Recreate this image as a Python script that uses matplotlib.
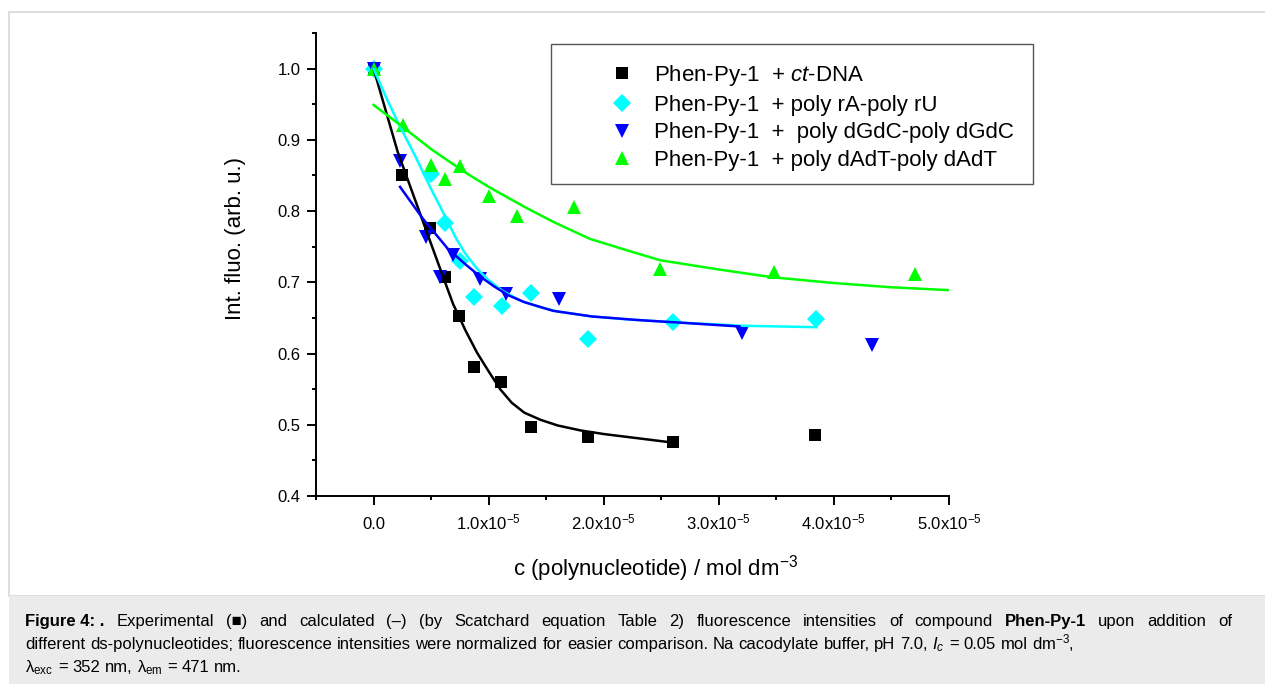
import matplotlib.pyplot as plt
from matplotlib.lines import Line2D
from matplotlib.patches import Rectangle
from matplotlib.ticker import MultipleLocator

plt.rcParams['font.family'] = ['Liberation Sans', 'DejaVu Sans']
plt.rcParams['mathtext.fontset'] = 'custom'
plt.rcParams['mathtext.rm'] = 'Liberation Sans'
plt.rcParams['mathtext.it'] = 'Liberation Sans:italic'
plt.rcParams['mathtext.bf'] = 'Liberation Sans:bold'

# concentrations in units of 1e-5 mol dm-3
# ct-DNA
ct_x = [0, 0.25, 0.49, 0.62, 0.745, 0.87, 1.11, 1.37, 1.865, 2.605, 3.84]
ct_y = [1.0, 0.85, 0.776, 0.708, 0.652, 0.581, 0.560, 0.497, 0.483, 0.476, 0.486]
ct_fit_x = [0, 0.21, 0.43, 0.59, 0.69, 0.80, 0.90, 1.0, 1.1, 1.2, 1.31, 1.45, 1.6, 1.8, 2.0, 2.3, 2.6]
ct_fit_y = [1.0, 0.883, 0.785, 0.714, 0.670, 0.632, 0.601, 0.575, 0.550, 0.531, 0.517, 0.507,
            0.499, 0.492, 0.487, 0.481, 0.475]

# poly rA-poly rU
ru_x = [0, 0.50, 0.62, 0.755, 0.87, 1.12, 1.37, 1.865, 2.605, 3.845]
ru_y = [1.0, 0.852, 0.783, 0.730, 0.680, 0.667, 0.685, 0.621, 0.644, 0.648]
ru_fit_x = [0, 0.1, 0.21, 0.36, 0.50, 0.58, 0.65, 0.72, 0.79, 0.90, 1.0, 1.12, 1.28, 1.45, 1.6,
            1.9, 2.2, 2.6, 3.2, 3.85]
ru_fit_y = [1.0, 0.963, 0.925, 0.878, 0.831, 0.806, 0.783, 0.761, 0.742, 0.719, 0.703, 0.688,
            0.674, 0.665, 0.659, 0.652, 0.648, 0.644, 0.639, 0.637]

# poly dGdC-poly dGdC
gc_x = [0, 0.226, 0.458, 0.58, 0.69, 0.922, 1.155, 1.61, 3.2, 4.335]
gc_y = [1.0, 0.871, 0.764, 0.707, 0.738, 0.704, 0.684, 0.676, 0.629, 0.612]
gc_fit_x = [0.23, 0.43, 0.646, 0.80, 0.936, 1.05, 1.168, 1.313, 1.559, 1.9, 2.3, 2.7, 3.18]
gc_fit_y = [0.834, 0.789, 0.747, 0.725, 0.707, 0.694, 0.682, 0.672, 0.660, 0.652, 0.647, 0.643, 0.638]

# poly dAdT-poly dAdT
at_x = [0, 0.255, 0.50, 0.617, 0.754, 1.0, 1.246, 1.742, 2.487, 3.478, 4.704]
at_y = [1.0, 0.921, 0.865, 0.845, 0.863, 0.821, 0.793, 0.806, 0.719, 0.714, 0.712]
at_fit_x = [0, 0.255, 0.50, 0.79, 1.0, 1.31, 1.56, 1.88, 2.2, 2.49, 3.0, 3.47, 4.0, 4.5, 5.0]
at_fit_y = [0.949, 0.918, 0.887, 0.855, 0.834, 0.806, 0.785, 0.761, 0.745, 0.731, 0.718, 0.707,
            0.699, 0.693, 0.689]

labels = [r'Phen-Py-1  + $\mathit{ct}$-DNA',
          'Phen-Py-1  + poly rA-poly rU',
          'Phen-Py-1  +  poly dGdC-poly dGdC',
          'Phen-Py-1  + poly dAdT-poly dAdT']
xtick_vals = [0, 1, 2, 3, 4, 5]
xtick_labels = ['0.0'] + [r'%d.0x10$^{-5}$' % v for v in xtick_vals[1:]]

W, H = 1265, 684
fig = plt.figure(figsize=(W / 100, H / 100), dpi=100)

# white panel with light border + grey caption box
fig.patches.append(Rectangle((9 / W, 1 - 596 / H), 1.0, (596 - 12) / H, transform=fig.transFigure,
                             facecolor='white', edgecolor='#d8d8d8', lw=1.2, zorder=-2))
fig.patches.append(Rectangle((9 / W, 0), 1.0, (684 - 596) / H, transform=fig.transFigure,
                             facecolor='#ebebeb', edgecolor='none', zorder=-2))

ax = fig.add_axes([316 / W, 1 - 496 / H, 633 / W, 463 / H])
ax.patch.set_alpha(0)

ms_sq, ms_d, ms_tri = 8, 9, 10
ax.plot(ct_x, ct_y, 's', color='black', ms=ms_sq, mew=0)
ax.plot(ru_x, ru_y, 'D', color='#00ffff', ms=ms_d, mew=0)
ax.plot(gc_x, gc_y, 'v', color='#0000ff', ms=ms_tri, mew=0)
ax.plot(at_x, at_y, '^', color='#00ff00', ms=ms_tri, mew=0)

ax.plot(ct_fit_x, ct_fit_y, '-', color='black', lw=1.8)
ax.plot(ru_fit_x, ru_fit_y, '-', color='#00ffff', lw=1.8)
ax.plot(gc_fit_x, gc_fit_y, '-', color='#0000ff', lw=1.8)
ax.plot(at_fit_x, at_fit_y, '-', color='#00ff00', lw=1.8)

ax.set_xlim(-0.5, 5.0)
ax.set_ylim(0.4, 1.05)
ax.spines['top'].set_visible(False)
ax.spines['right'].set_visible(False)
for s in ['left', 'bottom']:
    ax.spines[s].set_linewidth(1.4)
ax.set_xticks(xtick_vals)
ax.set_xticklabels(xtick_labels)
ax.set_yticks([0.4, 0.5, 0.6, 0.7, 0.8, 0.9, 1.0])
ax.set_yticklabels(['0.4', '0.5', '0.6', '0.7', '0.8', '0.9', '1.0'])
ax.xaxis.set_minor_locator(MultipleLocator(0.5))
ax.yaxis.set_minor_locator(MultipleLocator(0.05))
ax.tick_params(which='major', direction='out', length=6.7, width=1.4, labelsize=12)
ax.tick_params(which='minor', direction='out', length=3.2, width=1.4)
ax.tick_params(axis='y', pad=4.5)
ax.tick_params(axis='x', pad=17)
plt.setp(ax.get_xticklabels(), va='baseline')

fig.text(236 / W, 1 - 238 / H, 'Int. fluo. (arb. u.)', rotation=90, ha='center', va='center',
         fontsize=16)
fig.text(656 / W, 1 - 576 / H, r'c (polynucleotide) / mol dm$^{-3}$', ha='center', va='baseline',
         fontsize=16)

# legend box
fig.patches.append(Rectangle((551 / W, 1 - 184 / H), 482 / W, 140 / H, transform=fig.transFigure,
                             facecolor='white', edgecolor='#555555', lw=1.0, zorder=3))
handles = [Line2D([], [], ls='none', marker='s', color='black', ms=ms_sq, mew=0),
           Line2D([], [], ls='none', marker='D', color='#00ffff', ms=ms_d, mew=0),
           Line2D([], [], ls='none', marker='v', color='#0000ff', ms=ms_tri, mew=0),
           Line2D([], [], ls='none', marker='^', color='#00ff00', ms=ms_tri, mew=0)]
leg = fig.legend(handles, labels, loc='upper left', bbox_to_anchor=(611 / W, 1 - 63 / H),
                 bbox_transform=fig.transFigure, frameon=False, fontsize=16, numpoints=1,
                 handlelength=1.0, handletextpad=0.95, labelspacing=0.30, borderpad=0,
                 borderaxespad=0)
leg.set_zorder(4)

# caption: word by word, first line justified to the box width
cap_fs = 12
renderer = fig.canvas.get_renderer()


def put_line(x_px, y_px, runs, right_px=None):
    words = []
    for s, kw, keep in runs:
        if keep:
            words.append((s, kw))
            continue
        for w in s.split(' '):
            if w:
                words.append((w, kw))
    arts = [fig.text(x_px / W, 1 - y_px / H, w, va='baseline', fontsize=cap_fs, **kw)
            for w, kw in words]
    widths = [a.get_window_extent(renderer).width for a in arts]
    t1 = fig.text(0, 0, 'a a', fontsize=cap_fs)
    t2 = fig.text(0, 0, 'aa', fontsize=cap_fs)
    sp = t1.get_window_extent(renderer).width - t2.get_window_extent(renderer).width
    t1.remove()
    t2.remove()
    if right_px is not None and len(arts) > 1:
        sp = (right_px - x_px - sum(widths)) / (len(arts) - 1)
    x = x_px
    for a, w in zip(arts, widths):
        a.set_x(x / W)
        x += w + sp


put_line(25, 626, [('Figure 4: .', dict(weight='bold'), True),
                   ('Experimental (■) and calculated (–) (by Scatchard equation Table 2) '
                    'fluorescence intensities of compound', {}, False),
                   ('Phen-Py-1', dict(weight='bold'), True),
                   ('upon addition of', {}, False)], right_px=1232)
put_line(25, 649, [('different ds-polynucleotides; fluorescence intensities were normalized for '
                    'easier comparison. Na cacodylate buffer, pH 7.0,', {}, False),
                   (r'$I_c$', {}, True),
                   (r'= 0.05 mol dm$^{-3}$,', {}, False)])
put_line(25, 672, [(r'$\mathrm{λ_{exc}}$ = 352 nm, $\mathrm{λ_{em}}$ = 471 nm.', {}, False)])

fig.savefig('out.png', dpi=100)
